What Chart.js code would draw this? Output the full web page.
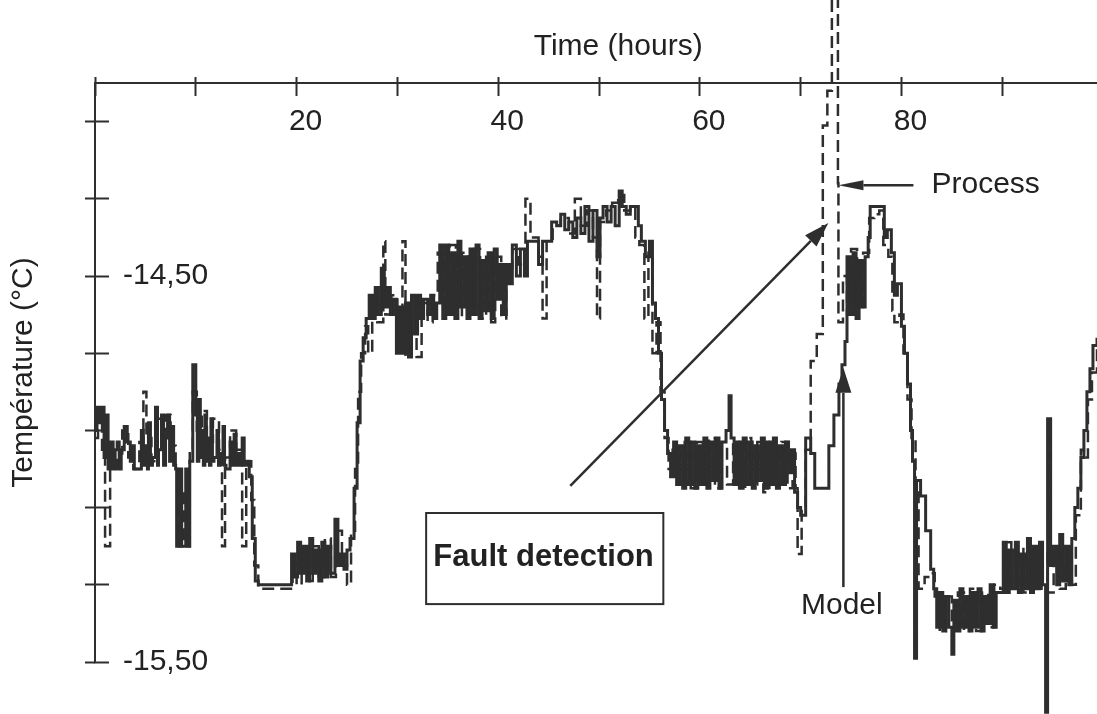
<!DOCTYPE html>
<html>
<head>
<meta charset="utf-8">
<script src="https://cdn.jsdelivr.net/npm/chart.js@4.4.1/dist/chart.umd.min.js"></script>
<style>
  html, body { margin: 0; padding: 0; background: #fff; }
  #wrap { width: 1097px; height: 714px; }
</style>
</head>
<body>
<div id="wrap"><canvas id="chart"></canvas></div>
<script>
// time axis ticks (hours) and their labels
const xTicks = [0, 10, 20, 30, 40, 50, 60, 70, 80, 90];
const xTickLabels = ['', '', '20', '', '40', '', '60', '', '80', ''];
// temperature axis ticks (°C)
const yTicks = [-15.5, -15.3, -15.1, -14.9, -14.7, -14.5, -14.3, -14.1];
const yTickLabels = ['-15,50', '', '', '', '', '-14,50', '', ''];

// model output [hours, °C]
const modelSeries = [
  [0.0,-14.90],[0.2,-14.84],[0.5,-14.88],[0.8,-14.84],[0.9,-14.97],[1.1,-14.86],[1.3,-15.00],[1.6,-14.93],
  [1.8,-15.00],[2.0,-14.95],[2.2,-14.93],[2.4,-15.00],[2.6,-14.95],[2.9,-14.89],[3.2,-14.93],[3.5,-14.98],
  [3.7,-14.94],[3.9,-15.00],[4.3,-15.00],[4.6,-14.90],[4.8,-14.99],[5.0,-14.94],[5.2,-15.00],[5.3,-14.88],
  [5.5,-14.99],[5.7,-14.97],[6.0,-14.84],[6.2,-14.99],[6.3,-14.95],[6.6,-14.86],[6.8,-14.99],[7.0,-14.92],
  [7.2,-14.86],[7.4,-14.98],[7.6,-14.89],[7.8,-14.99],[8.0,-15.00],[8.1,-15.20],[8.4,-15.00],[8.6,-15.20],
  [9.0,-15.00],[9.2,-15.20],[9.4,-14.98],[9.7,-14.73],[10.0,-14.86],[10.15,-14.98],[10.3,-14.82],[10.45,-14.97],
  [10.6,-14.90],[10.75,-14.99],[10.9,-14.86],[11.05,-14.98],[11.2,-14.92],[11.35,-14.99],[11.5,-14.87],[11.65,-14.98],
  [11.8,-14.97],[12.1,-14.90],[12.25,-14.99],[12.4,-14.96],[12.7,-14.89],[12.85,-14.99],[13.0,-15.00],[13.4,-14.93],
  [13.6,-14.99],[13.8,-14.91],[14.0,-14.99],[14.2,-14.96],[14.4,-14.99],[14.6,-14.92],[14.8,-14.99],[15.0,-14.98],
  [15.3,-15.02],[15.6,-15.18],[15.9,-15.29],[16.2,-15.30],[19.2,-15.30],[19.5,-15.22],[19.8,-15.28],[20.1,-15.19],
  [20.4,-15.27],[20.7,-15.20],[21.0,-15.29],[21.3,-15.18],[21.6,-15.27],[21.9,-15.21],[22.2,-15.29],[22.5,-15.19],
  [22.8,-15.28],[23.1,-15.20],[23.4,-15.27],[23.8,-15.13],[24.1,-15.25],[24.4,-15.22],[24.7,-15.26],[25.0,-15.21],
  [25.3,-15.18],[25.7,-15.05],[26.0,-14.88],[26.3,-14.72],[26.6,-14.66],[26.9,-14.61],[27.2,-14.55],[27.5,-14.61],
  [27.8,-14.53],[28.1,-14.60],[28.4,-14.48],[28.7,-14.58],[29.0,-14.53],[29.3,-14.60],[29.6,-14.56],[29.9,-14.70],
  [30.2,-14.58],[30.5,-14.70],[30.8,-14.57],[31.1,-14.71],[31.4,-14.55],[31.7,-14.65],[32.0,-14.55],[32.3,-14.61],
  [32.6,-14.56],[33.0,-14.60],[33.3,-14.55],[33.6,-14.61],[33.9,-14.57],[34.2,-14.42],[34.5,-14.61],[34.8,-14.42],
  [35.1,-14.60],[35.4,-14.44],[35.7,-14.61],[36.0,-14.41],[36.3,-14.58],[36.6,-14.45],[36.9,-14.61],[37.2,-14.43],
  [37.5,-14.60],[37.8,-14.42],[38.1,-14.61],[38.4,-14.46],[38.7,-14.59],[39.0,-14.44],[39.3,-14.61],[39.6,-14.43],
  [39.9,-14.56],[40.2,-14.47],[40.5,-14.60],[40.8,-14.47],[41.1,-14.52],[41.4,-14.42],[41.8,-14.50],[42.2,-14.43],
  [42.6,-14.50],[42.9,-14.41],[43.5,-14.41],[44.0,-14.47],[44.4,-14.41],[45.0,-14.41],[45.3,-14.36],[45.8,-14.37],
  [46.2,-14.34],[46.6,-14.38],[47.0,-14.36],[47.4,-14.40],[47.8,-14.35],[48.2,-14.39],[48.6,-14.32],[49.0,-14.41],
  [49.4,-14.33],[49.8,-14.45],[50.1,-14.35],[50.4,-14.32],[50.8,-14.36],[51.2,-14.32],[51.6,-14.37],[52.0,-14.28],
  [52.3,-14.32],[52.7,-14.34],[53.1,-14.32],[53.6,-14.32],[53.9,-14.37],[54.2,-14.41],[54.6,-14.45],[55.0,-14.41],
  [55.3,-14.57],[55.6,-14.61],[55.9,-14.70],[56.2,-14.82],[56.5,-14.90],[56.8,-14.96],[57.1,-15.02],[57.4,-14.93],
  [57.7,-15.04],[58.0,-14.94],[58.3,-15.05],[58.6,-14.92],[58.9,-15.04],[59.2,-14.93],[59.5,-15.05],[59.8,-14.94],
  [60.1,-15.04],[60.4,-14.92],[60.7,-15.05],[61.0,-14.93],[61.3,-15.03],[61.6,-14.92],[61.9,-15.05],[62.2,-14.93],
  [62.6,-14.90],[62.9,-14.81],[63.1,-14.92],[63.4,-15.04],[63.7,-14.93],[64.0,-15.05],[64.3,-14.92],[64.6,-15.04],
  [64.9,-14.93],[65.2,-15.05],[65.5,-14.94],[65.8,-15.03],[66.1,-14.92],[66.4,-15.05],[66.7,-14.93],[67.0,-15.04],
  [67.3,-14.92],[67.6,-15.05],[67.9,-14.94],[68.2,-15.04],[68.5,-14.93],[68.8,-15.01],[69.1,-14.95],[69.4,-15.06],
  [69.7,-15.10],[70.0,-15.12],[70.5,-14.92],[71.0,-14.96],[71.4,-15.05],[72.8,-14.94],[73.3,-14.86],[73.8,-14.78],
  [74.1,-14.73],[74.4,-14.67],[74.6,-14.45],[74.9,-14.60],[75.2,-14.44],[75.5,-14.61],[75.8,-14.46],[76.1,-14.58],
  [76.4,-14.45],[76.7,-14.40],[76.9,-14.32],[78.0,-14.32],[78.3,-14.40],[78.6,-14.38],[79.0,-14.44],[79.3,-14.55],
  [79.6,-14.52],[80.0,-14.63],[80.3,-14.70],[80.6,-14.78],[80.9,-14.90],[81.1,-14.98],[81.3,-15.49],[81.5,-15.03],
  [81.9,-15.07],[82.4,-15.16],[82.9,-15.26],[83.2,-15.31],[83.5,-15.41],[83.8,-15.32],[84.1,-15.42],[84.4,-15.33],
  [84.7,-15.41],[85.0,-15.48],[85.2,-15.34],[85.5,-15.42],[85.8,-15.31],[86.1,-15.41],[86.4,-15.33],[86.7,-15.42],
  [87.0,-15.32],[87.3,-15.41],[87.6,-15.31],[87.9,-15.42],[88.2,-15.33],[88.5,-15.40],[88.8,-15.30],[89.1,-15.41],
  [89.4,-15.32],[89.8,-15.32],[90.1,-15.19],[90.4,-15.32],[90.7,-15.21],[91.0,-15.31],[91.3,-15.19],[91.6,-15.32],
  [91.9,-15.22],[92.2,-15.31],[92.5,-15.18],[92.8,-15.32],[93.1,-15.20],[93.4,-15.31],[93.7,-15.19],[94.0,-15.30],
  [94.3,-15.63],[94.5,-14.87],[94.8,-15.25],[95.1,-15.20],[95.4,-15.30],[95.7,-15.17],[96.0,-15.29],[96.3,-15.20],
  [96.6,-15.30],[96.9,-15.18],[97.2,-15.10],[97.5,-15.05],[97.8,-14.97],[98.1,-14.90],[98.4,-14.80],[98.7,-14.74],
  [99.0,-14.68],[99.4,-14.66]
];

// measured process temperature [hours, °C]
const processSeries = [
  [0.0,-14.92],[0.3,-14.86],[0.7,-14.95],[1.0,-15.20],[1.5,-15.00],[2.2,-14.96],[2.7,-14.90],[3.3,-14.97],
  [3.8,-15.00],[4.4,-14.93],[4.8,-14.80],[5.1,-14.92],[5.6,-14.98],[6.1,-14.87],[6.6,-14.93],[7.0,-14.86],
  [7.5,-14.94],[8.0,-15.00],[8.3,-15.20],[8.8,-15.05],[9.1,-15.20],[9.4,-14.95],[9.7,-14.80],[10.1,-14.90],
  [10.6,-14.85],[11.1,-14.93],[11.7,-14.87],[12.3,-14.95],[12.6,-15.20],[12.9,-14.97],[13.4,-14.90],[14.0,-14.95],
  [14.6,-15.20],[15.0,-14.98],[15.5,-15.08],[15.8,-15.25],[16.2,-15.31],[19.3,-15.31],[19.6,-15.24],[20.0,-15.30],
  [20.5,-15.21],[21.1,-15.29],[21.6,-15.20],[22.2,-15.28],[22.8,-15.18],[23.4,-15.28],[23.9,-15.16],[24.5,-15.25],
  [25.0,-15.30],[25.4,-15.16],[25.8,-15.00],[26.1,-14.80],[26.4,-14.70],[26.8,-14.63],[27.1,-14.70],[27.5,-14.57],
  [28.0,-14.62],[28.6,-14.41],[28.8,-14.60],[29.4,-14.55],[30.0,-14.62],[30.5,-14.41],[30.8,-14.71],[31.3,-14.60],
  [31.9,-14.71],[32.4,-14.57],[33.0,-14.62],[33.5,-14.55],[34.0,-14.44],[34.6,-14.60],[35.2,-14.42],[35.8,-14.61],
  [36.4,-14.44],[37.0,-14.60],[37.6,-14.43],[38.2,-14.61],[38.8,-14.45],[39.3,-14.62],[39.7,-14.45],[40.3,-14.61],
  [40.8,-14.48],[41.4,-14.43],[42.0,-14.47],[42.7,-14.30],[43.2,-14.40],[44.0,-14.45],[44.4,-14.61],[44.8,-14.41],
  [45.4,-14.37],[46.2,-14.35],[47.0,-14.39],[47.6,-14.30],[48.2,-14.37],[48.8,-14.33],[49.4,-14.40],[49.8,-14.61],
  [50.1,-14.36],[50.7,-14.33],[51.3,-14.31],[51.9,-14.29],[52.5,-14.33],[53.1,-14.32],[53.6,-14.40],[54.0,-14.42],
  [54.5,-14.61],[54.9,-14.44],[55.3,-14.70],[55.7,-14.62],[56.1,-14.80],[56.5,-14.92],[56.9,-15.00],[57.3,-14.95],
  [57.9,-15.04],[58.5,-14.93],[59.1,-15.05],[59.7,-14.93],[60.3,-15.04],[60.9,-14.92],[61.5,-15.05],[62.1,-14.94],
  [62.7,-15.04],[63.3,-14.93],[63.9,-15.05],[64.5,-14.92],[65.1,-15.04],[65.7,-14.93],[66.3,-15.06],[66.9,-14.93],
  [67.5,-15.04],[68.1,-14.93],[68.7,-15.05],[69.2,-14.96],[69.5,-15.05],[69.7,-15.22],[70.1,-15.10],[70.5,-14.95],
  [71.0,-14.72],[71.6,-14.65],[72.2,-14.11],[72.65,-14.02],[73.1,-13.78],[73.7,-14.26],[73.75,-14.62],[74.2,-14.50],
  [74.6,-14.60],[75.0,-14.43],[75.6,-14.58],[76.2,-14.44],[76.8,-14.35],[77.3,-14.34],[77.8,-14.33],[78.2,-14.42],
  [78.7,-14.45],[79.1,-14.59],[79.3,-14.62],[79.8,-14.60],[80.2,-14.70],[80.6,-14.82],[81.0,-14.92],[81.4,-15.05],
  [81.7,-15.31],[82.3,-15.28],[82.8,-15.27],[83.3,-15.33],[83.8,-15.42],[84.4,-15.33],[85.0,-15.41],[85.6,-15.32],
  [86.2,-15.42],[86.8,-15.31],[87.4,-15.42],[88.0,-15.32],[88.6,-15.41],[89.2,-15.30],[89.8,-15.31],[90.3,-15.19],
  [90.9,-15.31],[91.5,-15.20],[92.1,-15.32],[92.7,-15.20],[93.3,-15.31],[93.9,-15.21],[94.5,-15.32],[95.1,-15.22],
  [95.7,-15.31],[96.3,-15.22],[96.9,-15.30],[97.3,-15.12],[97.8,-14.95],[98.1,-14.97],[98.5,-14.82],[98.9,-14.75],
  [99.4,-14.68]
];

// annotations, placed in data units (hours, °C)
const notes = [
  { text: 'Time (hours)', at: [51.9, -13.905], align: 'center', bold: false, size: 30 },
  { text: 'Process', at: [82.98, -14.264], align: 'left', bold: false, size: 30 },
  { text: 'Model', at: [74.09, -15.355], align: 'center', bold: false, size: 30 },
  { text: 'Fault detection', at: [44.5, -15.23], align: 'center', bold: true, size: 31 }
];
const arrows = [
  { from: [47.15, -15.044], to: [72.75, -14.363], half: 8 },
  { from: [81.19, -14.265], to: [73.75, -14.265], half: 5 },
  { from: [74.24, -15.306], to: [74.24, -14.738], half: 8 }
];
const faultBox = [32.85, -15.114, 56.38, -15.350];

const ink = '#2e2e2e';
const fontFamily = "'Liberation Sans', Arial, Helvetica, sans-serif";
Chart.defaults.font.family = fontFamily;
Chart.defaults.font.size = 30;
Chart.defaults.color = '#222';

const noteLayer = {
  id: 'noteLayer',
  afterDatasetsDraw(chart) {
    const { ctx, scales: { x, y } } = chart;
    const px = v => x.getPixelForValue(v);
    const py = v => y.getPixelForValue(v);
    ctx.save();
    ctx.strokeStyle = ink;
    ctx.fillStyle = ink;

    ctx.lineWidth = 2;
    ctx.strokeRect(px(faultBox[0]), py(faultBox[1]),
      px(faultBox[2]) - px(faultBox[0]), py(faultBox[3]) - py(faultBox[1]));

    arrows.forEach(a => {
      const x1 = px(a.from[0]), y1 = py(a.from[1]);
      const x2 = px(a.to[0]), y2 = py(a.to[1]);
      const ang = Math.atan2(y2 - y1, x2 - x1);
      const bx = x2 - 25 * Math.cos(ang);
      const by = y2 - 25 * Math.sin(ang);
      ctx.lineWidth = 2.5;
      ctx.beginPath();
      ctx.moveTo(x1, y1);
      ctx.lineTo(bx, by);
      ctx.stroke();
      ctx.beginPath();
      ctx.moveTo(x2, y2);
      ctx.lineTo(bx + a.half * Math.sin(ang), by - a.half * Math.cos(ang));
      ctx.lineTo(bx - a.half * Math.sin(ang), by + a.half * Math.cos(ang));
      ctx.closePath();
      ctx.fill();
    });

    ctx.fillStyle = '#222';
    ctx.textBaseline = 'middle';
    notes.forEach(n => {
      ctx.font = (n.bold ? 'bold ' : '') + n.size + 'px ' + fontFamily;
      ctx.textAlign = n.align;
      ctx.fillText(n.text, px(n.at[0]), py(n.at[1]));
    });
    ctx.restore();
  }
};

const setXTicks = s => { s.ticks = xTicks.map(v => ({ value: v })); };
const setYTicks = s => { s.ticks = yTicks.map(v => ({ value: v })); };

new Chart(document.getElementById('chart'), {
  type: 'line',
  data: {
    datasets: [{
      label: 'Process',
      data: processSeries.map(p => ({ x: p[0], y: p[1] })),
      borderColor: ink,
      borderWidth: 2.5,
      borderDash: [12, 6],
      stepped: true,
      pointRadius: 0,
      clip: false,
      xAxisID: 'x',
      yAxisID: 'y'
    }, {
      label: 'Model',
      data: modelSeries.map(p => ({ x: p[0], y: p[1] })),
      borderColor: ink,
      borderWidth: 3,
      stepped: true,
      pointRadius: 0,
      clip: false,
      xAxisID: 'x',
      yAxisID: 'y'
    }]
  },
  options: {
    responsive: true,
    maintainAspectRatio: false,
    animation: false,
    layout: { padding: { top: 0, left: 0, right: 0, bottom: 52 } },
    plugins: { legend: { display: false }, tooltip: { enabled: false } },
    scales: {
      x: {
        type: 'linear', position: 'top', min: 0, max: 99.4, weight: 10,
        afterBuildTicks: setXTicks,
        afterFit: s => { s.height = 83; },
        border: { display: true, color: ink, width: 2 },
        grid: { drawOnChartArea: false, tickLength: -13, tickColor: ink, tickWidth: 2 },
        ticks: {
          mirror: true, padding: 21, labelOffset: 9, autoSkip: false, maxRotation: 0,
          callback: (v, i) => xTickLabels[i]
        }
      },
      x2: {
        type: 'linear', position: 'top', min: 0, max: 99.4, weight: 0,
        afterBuildTicks: setXTicks,
        afterFit: s => { s.height = 0; },
        border: { display: false },
        grid: { drawOnChartArea: false, tickLength: 6, tickColor: ink, tickWidth: 2 },
        ticks: { display: false }
      },
      y: {
        type: 'linear', position: 'left', min: -15.5, max: -14.0, weight: 10,
        afterBuildTicks: setYTicks,
        afterFit: s => { s.width = 95; },
        border: { display: true, color: ink, width: 2 },
        grid: { drawOnChartArea: false, tickLength: -14, tickColor: ink, tickWidth: 2 },
        ticks: {
          mirror: true, padding: 28, autoSkip: false,
          callback: (v, i) => yTickLabels[i]
        },
        title: {
          display: true, text: 'Température (°C)',
          padding: { top: 6, bottom: 0 }
        }
      },
      y2: {
        type: 'linear', position: 'left', min: -15.5, max: -14.0, weight: 0,
        afterBuildTicks: setYTicks,
        afterFit: s => { s.width = 0; },
        border: { display: false },
        grid: { drawOnChartArea: false, tickLength: 10, tickColor: ink, tickWidth: 2 },
        ticks: { display: false }
      }
    }
  },
  plugins: [noteLayer]
});
</script>
</body>
</html>
